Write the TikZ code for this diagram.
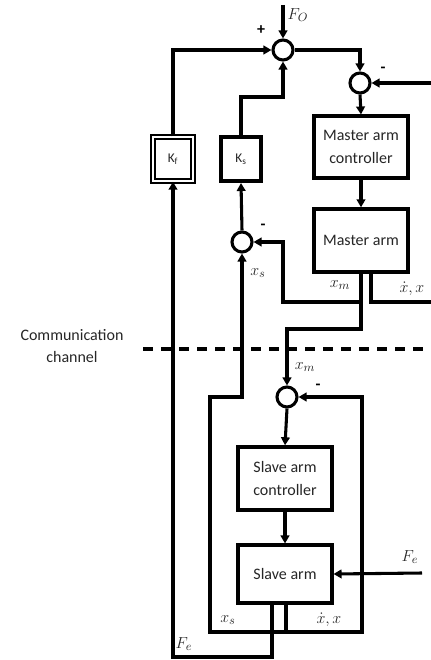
\documentclass[tikz,border=0pt]{standalone}
\usepackage{fontspec}
\setmainfont{Carlito}
\usetikzlibrary{arrows.meta}
\begin{document}
\begin{tikzpicture}[x=0.75pt,y=-0.75pt,
  ln/.style={line width=2.3pt},
  arr/.style={ln,-{Triangle[length=6pt,width=6.5pt]}},
  sumnode/.style={circle,draw,line width=2.3pt,fill=white,minimum size=15pt,inner sep=0pt},
  blk/.style={draw,line width=2.8pt,fill=white,align=center,font=\fontsize{12}{17}\selectfont,text=black!85},
  kbox/.style={fill=white,minimum width=30pt,minimum height=33pt,inner sep=0pt,font=\fontsize{10}{12}\selectfont,text=black!85},
  lbl/.style={font=\fontsize{12.5}{15}\selectfont,text=black!85,inner sep=0pt},
  sgn/.style={font=\bfseries\fontsize{12}{14}\selectfont,inner sep=0pt}]
\useasboundingbox (0,0) rectangle (431,660);

% summing junctions
\node[sumnode] (s1) at (283,50) {};
\node[sumnode] (s2) at (360,83) {};
\node[sumnode] (s3) at (242,242) {};
\node[sumnode] (s4) at (287,397) {};

% gain boxes
\node[kbox,draw,double,line width=1.1pt,double distance=1.6pt] (kf) at (173,159) {K$_\mathrm{f}$};
\node[kbox,draw,line width=3pt] (ks) at (241,159) {K$_\mathrm{s}$};

% blocks
\node[blk,minimum width=71pt,minimum height=46pt] (mac) at (361,147) {Master arm\\controller};
\node[blk,minimum width=71pt,minimum height=47pt] (ma) at (361,240.5) {Master arm};
\node[blk,minimum width=70pt,minimum height=47pt] (sac) at (285,478.5) {Slave arm\\controller};
\node[blk,minimum width=70pt,minimum height=43pt] (sa) at (285,574) {Slave arm};

% helper coordinates
\coordinate (fo) at (283,5);
\coordinate (rin) at (431,83);
\coordinate (ma2) at (371,272);
\coordinate (xout) at (431,302);
\coordinate (bxm) at (361,302);
\coordinate (sa1) at (272,603);
\coordinate (sa2) at (286,603);
\coordinate (fein) at (422,573);
\coordinate (dl) at (143,349);
\coordinate (dr) at (431,349);

% master side
\draw[arr] (fo) -- (s1.north);
\draw[arr] (kf.north) |- (s1.west);
\draw[arr] (ks.north) -- ++(0,-38) -| (s1.south);
\draw[arr] (s1.east) -| (s2.north);
\draw[arr] (rin) -- (s2.east);
\draw[arr] (s2.south) -- (mac.north);
\draw[arr] (mac.south) -- (ma.north);
\draw[arr] (ma.south) -- (361,329) -| (s4.north);
\draw[arr] (bxm) -| (283,242) -- (s3.east);
\draw[ln] (ma2) |- (xout);
\draw[arr] (s3.north) -- (ks.south);

% slave side
\draw[arr] (s4.south) -- (sac.north);
\draw[arr] (sac.south) -- (sa.north);
\draw[arr] (fein) -- (sa.east);
\draw[arr] (sa2) -- (286,632) -| (210,397) -| (s3.south);
\draw[arr] (286,632) -| (362,397) -- (s4.east);
\draw[arr] (sa1) |- (173,657) -- (kf.south);

% communication channel
\draw[ln,dash pattern=on 7.5pt off 6pt] (dl) -- (dr);
\node[font=\fontsize{12}{17}\selectfont,text=black!85,align=center] (cc) at (72,346) {Communication\\channel};

% signs
\node[sgn] (p1) at (261,30) {+};
\node[sgn] (m1) at (383,70) {-};
\node[sgn] (m2) at (263,227) {-};
\node[sgn] (m3) at (318,387) {-};

% signal labels
\node[lbl] (lfo) at (298,15) {$F_O$};
\node[lbl] (lxm1) at (340,285) {$x_m$};
\node[lbl] (ldx1) at (412,289) {$\dot x, x$};
\node[lbl] (lxs1) at (258,273) {$x_s$};
\node[lbl] (lxm2) at (305,367) {$x_m$};
\node[lbl] (lxs2) at (228,620) {$x_s$};
\node[lbl] (ldx2) at (329,620) {$\dot x, x$};
\node[lbl] (lfe1) at (184,644) {$F_e$};
\node[lbl] (lfe2) at (410,557) {$F_e$};
\end{tikzpicture}
\end{document}
